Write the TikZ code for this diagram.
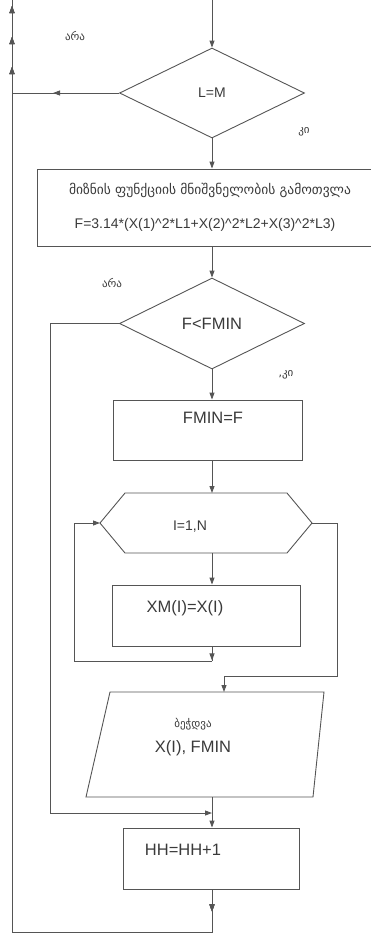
\documentclass[tikz,border=0pt]{standalone}
\usepackage{fontspec}
\setmainfont{Liberation Sans}
\newfontfamily\geo{DejaVu Sans}
\usetikzlibrary{shapes.geometric,arrows.meta,decorations.markings}
\definecolor{ln}{HTML}{555555}
\definecolor{tx}{HTML}{3A3A3A}
\begin{document}
\begin{tikzpicture}[x=1pt,y=-1pt,
  line width=0.9pt, draw=ln, text=tx,
  tip/.tip={Triangle[length=7pt,width=5pt]},
  arr/.style={-tip},
  box/.style={draw, rectangle, inner sep=0pt},
  dia/.style={draw, diamond, inner sep=0pt, aspect=2.05},
  lbl/.style={inner sep=0pt, font=\geo\fontsize{11}{13}\selectfont},
  big/.style={inner sep=0pt, font=\fontsize{16.5}{19}\selectfont},
  mid/.style={inner sep=0pt, font=\fontsize{14}{17}\selectfont},
  marks/.style={postaction={decorate}, decoration={markings,
     mark=at position #1 with {\arrow{tip}}}},
]
\useasboundingbox (0,0) rectangle (370,935);

% decision L=M
\coordinate (top) at (212,0);
\node[dia, minimum width=185pt, minimum height=90pt, mid] (d1) at (212,93) {L=M};
\draw[arr] (top) -- (d1.north);
\coordinate (lft1) at (12,93);
\draw[marks=66pt] (d1.west) -- (lft1);
\node[lbl] (no1) at (75,36) {არა};
\node[lbl] (yes1) at (304,132) {კი};

% computation box
\node[box, minimum width=340pt, minimum height=77pt] (b1) at (207,207.5) {};
\node[inner sep=0pt, font=\geo\fontsize{13.5}{15}\selectfont] (t1) at (210,190) {მიზნის ფუნქციის მნიშვნელობის გამოთვლა};
\node[mid] (t2) at (205,225) {F=3.14*(X(1)\^{}2*L1+X(2)\^{}2*L2+X(3)\^{}2*L3)};
\draw[arr] (d1.south) -- (b1.north -| d1.south);

% decision F<FMIN
\node[dia, minimum width=185pt, minimum height=91pt, big] (d2) at (212,323.5) {F<FMIN};
\draw[arr] (b1.south -| d2.north) -- (d2.north);
\node[lbl] (no2) at (112,283) {არა};
\node[lbl] (yes2) at (286,375) {,კი};

% FMIN=F
\node[box, minimum width=189pt, minimum height=60pt] (b2) at (207.5,430) {};
\node[big] (t3) at (213,418) {FMIN=F};
\draw[arr] (d2.south) -- (b2.north -| d2.south);

% hexagon I=1,N
\coordinate (hL) at (100,523);
\coordinate (hR) at (312,523);
\coordinate (hT) at (212,493);
\coordinate (hB) at (212,553);
\draw (hL) -- (125,493) -- (287,493) -- (hR) -- (287,553) -- (125,553) -- cycle;
\node[mid] (t4) at (190,527) {I=1,N};
\draw[arr] (b2.south -| hT) -- (hT);

% XM(I)=X(I)
\node[box, minimum width=188pt, minimum height=61pt] (b3) at (206,615.5) {};
\node[big] (t5) at (185,608) {XM(I)=X(I)};
\draw[arr] (hB) -- (b3.north -| hB);
\coordinate (c1) at (212,661);
\coordinate (c2) at (74,661);
\coordinate (c3) at (74,523);
\draw[marks=14pt] (b3.south -| hB) -- (c1);
\draw[arr] (c1) -- (c2) -- (c3) -- (hL);

% exit of loop
\coordinate (c4) at (337,523);
\coordinate (c5) at (337,676);
\coordinate (c6) at (224,676);
\coordinate (pT) at (224,692);
\draw[arr] (hR) -- (c4) -- (c5) -- (c6) -- (pT);

% print parallelogram
\coordinate (pB) at (212,797);
\draw (110,692) -- (324,692) -- (313,797) -- (86,797) -- cycle;
\node[inner sep=0pt, font=\geo\fontsize{11}{12}\selectfont] (t6) at (193,724) {ბეჭდვა};
\node[big] (t7) at (193,748) {X(I), FMIN};

% HH=HH+1
\node[box, minimum width=176pt, minimum height=61pt] (b4) at (211,858.5) {};
\node[big] (t8) at (183,850) {HH=HH+1};
\draw[arr] (pB) -- (b4.north -| pB);

% no branch of F<FMIN
\coordinate (c7) at (50,323.5);
\coordinate (c8) at (50,813);
\coordinate (c9) at (212,813);
\draw[arr] (d2.west) -- (c7) -- (c8) -- (c9);

% outer loop back
\coordinate (c10) at (212,932);
\coordinate (c11) at (12,932);
\coordinate (c12) at (12,0);
\draw[marks=22pt, marks=-67pt, marks=-37pt, marks=-6pt] (b4.south -| pB) -- (c10) -- (c11) -- (c12);
\end{tikzpicture}
\end{document}
